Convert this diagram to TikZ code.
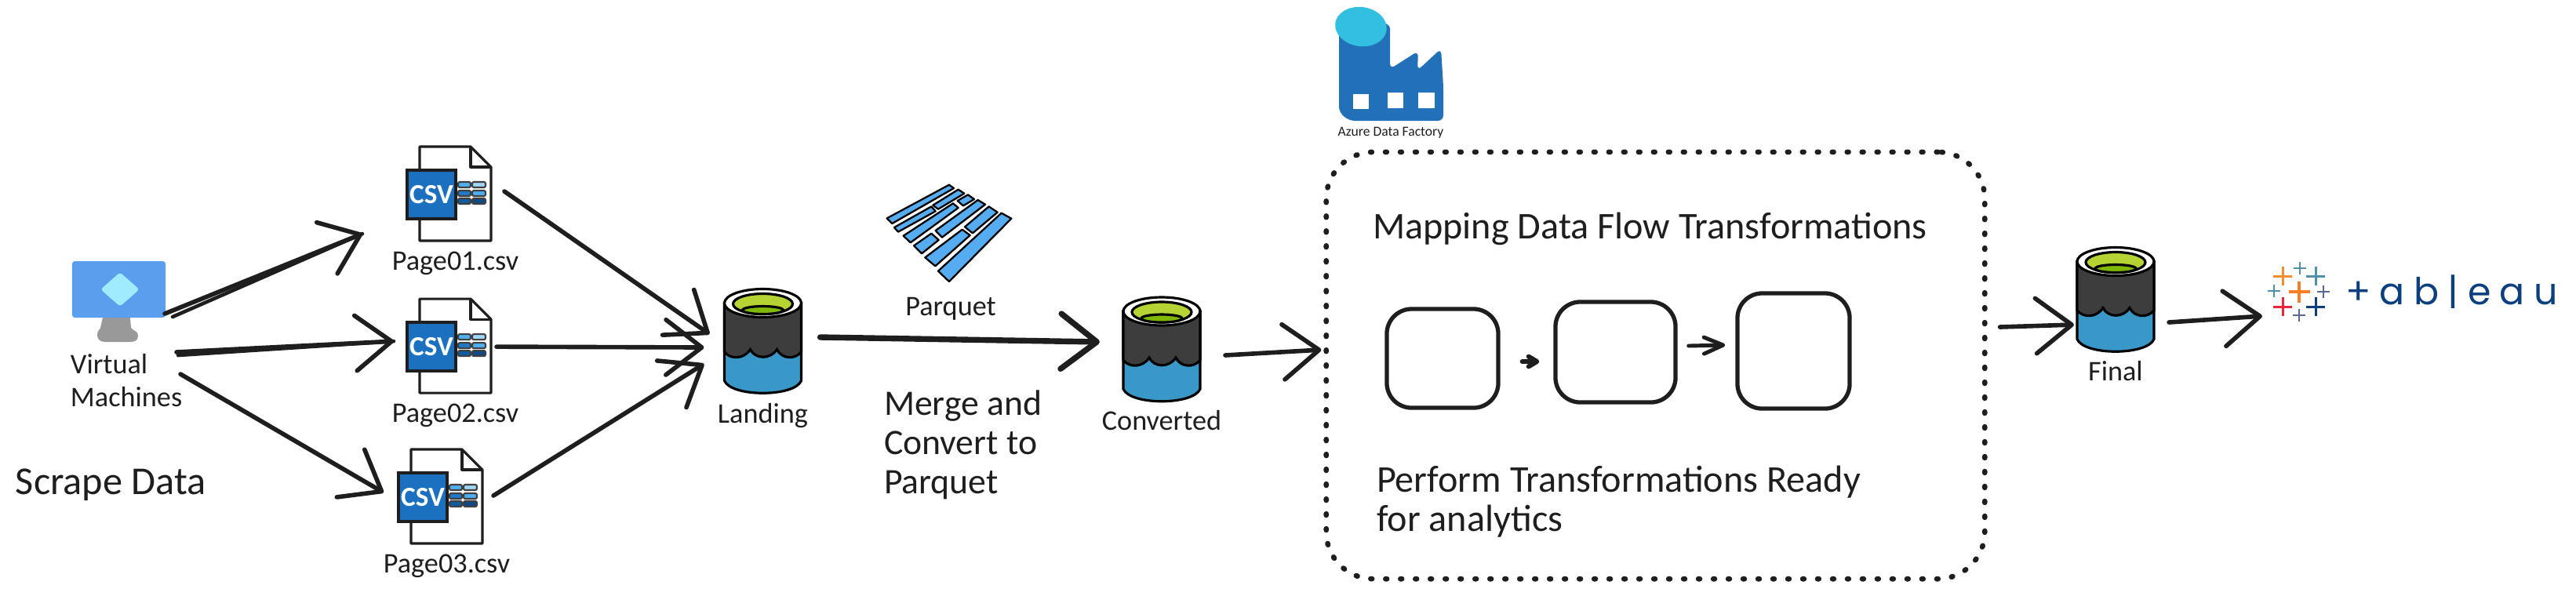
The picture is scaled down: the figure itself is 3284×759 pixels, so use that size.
\documentclass[tikz,border=0pt]{standalone}
\usepackage{fontspec}
\setmainfont{Carlito}
\newfontfamily\logofont[WordSpace=0.9]{Poppins}
\usetikzlibrary{arrows.meta, positioning, shapes.geometric}
\definecolor{ink}{RGB}{30, 30, 30}
\definecolor{screenblue}{RGB}{90, 158, 238}
\definecolor{gemcyan}{RGB}{160, 235, 255}
\definecolor{standgrey}{RGB}{153, 153, 153}
\definecolor{tagblue}{RGB}{27, 112, 192}
\definecolor{cellA}{RGB}{79, 174, 240}
\definecolor{cellB}{RGB}{160, 213, 248}
\definecolor{cellC}{RGB}{31, 120, 200}
\definecolor{cellD}{RGB}{15, 91, 160}
\definecolor{cellE}{RGB}{15, 74, 133}
\definecolor{binwall}{RGB}{61, 61, 61}
\definecolor{binwater}{RGB}{58, 152, 200}
\definecolor{binlime}{RGB}{181, 211, 51}
\definecolor{bingreen}{RGB}{127, 184, 0}
\definecolor{parquetblue}{RGB}{85, 172, 240}
\definecolor{factoryblue}{RGB}{34, 112, 184}
\definecolor{factorycyan}{RGB}{51, 191, 224}
\definecolor{tabnavy}{RGB}{11, 63, 126}
\definecolor{taborange}{RGB}{242, 142, 43}
\definecolor{tabflame}{RGB}{250, 127, 36}
\definecolor{tabteal}{RGB}{78, 145, 170}
\definecolor{tabpurple}{RGB}{92, 102, 146}
\definecolor{tabred}{RGB}{232, 39, 60}

\begin{document}
\begin{tikzpicture}[
  x=0.01cm, y=-0.01cm,
  spot/.style={rectangle, inner sep=0pt, outer sep=0pt},
  hand/.style={text=ink, inner sep=0pt, outer sep=0pt, align=left},
  smalltxt/.style={hand, font=\fontsize{10.3}{11.9}\selectfont},
  bigtxt/.style={hand, font=\fontsize{13.7}{14.2}\selectfont},
  mergefont/.style={hand, font=\fontsize{13}{14.2}\selectfont},
  arr/.style={-{Straight Barb[length=13pt, width=20pt, round]}, ink, line width=1.6pt, line cap=round},
  arrbold/.style={arr, line width=2.1pt},
  arrsmall/.style={-{Straight Barb[length=7pt, width=6pt, round]}, ink, line width=1.4pt, line cap=round},
  arrtiny/.style={-{Straight Barb[length=3pt, width=3.6pt, round]}, ink, line width=1.7pt, line cap=round},
  stroke/.style={ink, line width=1.3pt, line cap=round},
  stepbox/.style={rectangle, rounded corners=9pt, draw=ink, line width=1.5pt, fill=white, inner sep=0pt},
  cell/.style={draw=ink!85, line width=0.6pt, rounded corners=0.6pt},
  binline/.style={draw=black, line width=0.9pt},
  pqbar/.style={draw=black, fill=parquetblue, line width=0.65pt, line join=round},
  tabstroke/.style={line width=#1},
  csvdoc/.pic={
    \draw[ink, line width=0.9pt, fill=white, line join=round] (-37.5,-60) -- (27.5,-60) -- (53.5,-34) -- (53.5,60) -- (-37.5,60) -- cycle;
    \draw[ink, line width=0.9pt, line join=round] (27.5,-60) -- (27.5,-34) -- (53.5,-34);
    \node[rectangle, draw=ink, line width=1.1pt, fill=tagblue, text=white, minimum width=0.62cm, minimum height=0.62cm,
      inner sep=0pt, font=\fontsize{10}{10}\bfseries\selectfont] (-tag) at (-22.5,1) {CSV};
    \draw[cell, fill=cellA] (11.5,-15) rectangle (27.5,-8);
    \draw[cell, fill=cellB] (29.5,-15) rectangle (46.5,-8);
    \draw[cell, fill=cellC] (11.5,-4) rectangle (27.5,3);
    \draw[cell, fill=cellA] (29.5,-4) rectangle (46.5,3);
    \draw[cell, fill=cellD] (11.5,6) rectangle (27.5,13);
    \draw[cell, fill=cellE] (29.5,6) rectangle (46.5,13);
  },
  bucket/.pic={
    \path[binline, fill=binwater] (-49,-48) -- (-49,51) .. controls (-40,72) and (40,72) .. (49,51) -- (49,-48) -- cycle;
    \path[binline, fill=binwall] (-49,-48) -- (-49,14) .. controls (-42,24) and (-24,24) .. (-16,11)
      .. controls (-10,24) and (10,24) .. (18,11) .. controls (24,24) and (42,24) .. (49,14) -- (49,-48) -- cycle;
    \path[binline, fill=white] (0,-48) ellipse [x radius=49, y radius=18];
    \path[binline, fill=binlime] (0,-47) ellipse [x radius=38, y radius=13];
    \path[binline, fill=bingreen] (0,-39) ellipse [x radius=26, y radius=5];
  },
  parquetmark/.pic={
    \path[pqbar] (92,145) -- (330,17) -- (348,30) -- (112,165) -- cycle;
    \path[pqbar] (120,180) -- (262,100) -- (278,118) -- (135,197) -- cycle;
    \path[pqbar] (268,95) -- (365,35) -- (388,50) -- (288,110) -- cycle;
    \path[pqbar] (362,78) -- (402,55) -- (426,72) -- (384,97) -- cycle;
    \path[pqbar] (155,212) -- (345,88) -- (365,105) -- (182,238) -- cycle;
    \path[pqbar] (278,192) -- (440,75) -- (468,92) -- (303,218) -- cycle;
    \path[pqbar] (195,250) -- (262,203) -- (290,228) -- (225,280) -- cycle;
    \path[pqbar] (238,295) -- (380,188) -- (410,210) -- (277,328) -- cycle;
    \path[pqbar] (390,178) -- (482,100) -- (515,122) -- (420,202) -- cycle;
    \path[pqbar] (288,347) -- (530,125) -- (568,146) -- (330,387) -- cycle;
  },
  tabplus/.pic={
    \path[pic actions] (-10,0) -- (10,0) (0,-10) -- (0,10);
  }
]
\useasboundingbox (0,0) rectangle (3284,759);

\fill[standgrey] (131,405) -- (166,405) -- (167,418) .. controls (170,422) and (176,422) .. (176,428)
  .. controls (176,434) and (172,436) .. (166,436) -- (134,436) .. controls (127,436) and (124,432) .. (124,427)
  .. controls (124,421) and (128,420) .. (128,418) -- cycle;
\node[spot, fill=screenblue, rounded corners=1pt, minimum width=1.19cm, minimum height=0.72cm] (vm) at (151.5,369) {};
\node[diamond, fill=gemcyan, rounded corners=1pt, inner sep=0pt, minimum width=0.5cm, minimum height=0.44cm] (vmgem) at (153,369) {};
\node[smalltxt, anchor=base west] (vmtxt) at (90,518) {Virtual\\Machines};
\node[hand, font=\fontsize{14.3}{16}\selectfont, anchor=base west] (scrape) at (20,630) {Scrape Data};

\node[spot, minimum width=1.07cm, minimum height=1.2cm] (page1) at (572.5,247) {};
\node[spot, minimum width=1.07cm, minimum height=1.2cm, below=0.74cm of page1] (page2) {};
\node[spot, minimum width=1.07cm, minimum height=1.2cm] (page3) at (561.5,633) {};
\pic (csvA) at (page1) {csvdoc};
\pic (csvB) at (page2) {csvdoc};
\pic (csvC) at (page3) {csvdoc};
\node[smalltxt, below=0.14cm of page1, xshift=0.08cm] (name1) {Page01.csv};
\node[smalltxt, below=0.14cm of page2, xshift=0.08cm] (name2) {Page02.csv};
\node[smalltxt, below=0.14cm of page3, xshift=0.08cm] (name3) {Page03.csv};

\node[spot, minimum width=1cm, minimum height=1.33cm] (landing) at (972.5,434.5) {};
\node[spot, minimum width=1cm, minimum height=1.3cm] (converted) at (1481,445) {};
\node[spot, minimum width=1cm, minimum height=1.31cm] (final) at (2697,381.5) {};
\pic (binA) at (landing) {bucket};
\pic (binB) at (converted) {bucket};
\pic (binC) at (final) {bucket};
\node[smalltxt, below=0.13cm of landing] (landingtxt) {Landing};
\node[smalltxt, below=0.13cm of converted] (convertedtxt) {Converted};
\node[smalltxt, below=0.13cm of final] (finaltxt) {Final};

\pic[scale=0.3333] (pq) at (1100,230) {parquetmark};
\node[spot, minimum width=1.6cm, minimum height=1.25cm] (pqspot) at (1212,297) {};
\node[smalltxt, below=0.2cm of pqspot] (pqtxt) {Parquet};
\node[mergefont, anchor=base west] (mergetxt) at (1127,629) {Merge and\\Convert to\\Parquet};

\fill[factoryblue, rounded corners=2pt] (1707,30) -- (1772,30) -- (1772,88) -- (1808,65) -- (1807,90) -- (1837,62) -- (1840,110)
  -- (1840,154) -- (1720,154) -- (1707,143) -- cycle;
\fill[factorycyan, rotate around={-8:(1735,34)}] (1735,34) ellipse [x radius=33, y radius=25];
\fill[white] (1725,120) rectangle (1745,139);
\fill[white] (1769,118) rectangle (1789,138);
\fill[white] (1808,118) rectangle (1829,138);
\node[hand, font=\fontsize{5}{6}\selectfont] (adftxt) at (1773,169) {Azure Data Factory};

\node[rectangle, rounded corners=17pt, draw=ink, line width=1.9pt, line cap=round, dash pattern=on 0.5pt off 4.9pt,
  minimum width=8.39cm, minimum height=5.44cm] (flowbox) at (2110.5,466) {};
\node[bigtxt, anchor=base west] (flowhead) at (1750,304) {Mapping Data Flow Transformations};
\node[stepbox, minimum width=1.42cm, minimum height=1.26cm] (boxA) at (1839,457) {};
\node[stepbox, minimum width=1.53cm, minimum height=1.28cm] (boxB) at (2059.5,449) {};
\node[stepbox, minimum width=1.43cm, minimum height=1.47cm] (boxC) at (2286.5,447.5) {};
\node[bigtxt, anchor=base west] (flownote) at (1755,677) {Perform Transformations Ready\\for analytics};

\node[spot, minimum width=0.82cm, minimum height=0.8cm] (tablogo) at (2931,372) {};
\pic[tabstroke=1pt, draw=tabflame, scale=1.35] (plusA) at (tablogo) {tabplus};
\pic[tabstroke=0.85pt, draw=taborange, scale=1.2] (plusB) at (2910,352) {tabplus};
\pic[tabstroke=0.6pt, draw=tabteal, scale=0.8] (plusC) at (2932,342) {tabplus};
\pic[tabstroke=0.85pt, draw=tabteal, scale=1.2] (plusD) at (2952,352) {tabplus};
\pic[tabstroke=0.6pt, draw=tabteal, scale=0.8] (plusE) at (2899,371) {tabplus};
\pic[tabstroke=0.6pt, draw=tabpurple, scale=0.8] (plusF) at (2962,372) {tabplus};
\pic[tabstroke=0.85pt, draw=tabred, scale=1.2] (plusG) at (2910,391) {tabplus};
\pic[tabstroke=0.85pt, draw=tabnavy, scale=1.2] (plusH) at (2952,391) {tabplus};
\pic[tabstroke=0.6pt, draw=tabpurple, scale=0.8] (plusI) at (2931,402) {tabplus};
\node[hand, text=tabnavy, right=0.18cm of tablogo, font=\logofont\fontsize{13.5}{15}\selectfont] (tabword) {+ a b | e a u};

\draw[arr] ([shift={(-1,-5)}]vm.south east) -- ([shift={(-57,-9)}]page1.south west);
\draw[stroke] ([shift={(9,-1)}]vm.south east) -- ([shift={(-57,-9)}]page1.south west);
\draw[arr] ([shift={(14,44)}]vm.south east) -- ([shift={(-17,-6)}]page2.west);
\draw[stroke] ([shift={(16,48)}]vm.south east) -- ([shift={(-17,-6)}]page2.west);
\draw[arr] ([shift={(19,72)}]vm.south east) -- ([shift={(-19,-5)}]page3.west);

\draw[arr] ([shift={(17,-3)}]page1.east) -- ([shift={(-18,-8.5)}]landing.west);
\draw[arr] ([shift={(7,1)}]page2.east) -- ([shift={(-25,8.5)}]landing.west);
\draw[arr] ([shift={(14,-1)}]page3.east) -- ([shift={(-25,29.5)}]landing.west);

\draw[arrbold] ([shift={(23,-4.5)}]landing.east) -- ([shift={(-29,-9)}]converted.west);
\draw[arr] ([shift={(31,8)}]converted.east) -- ([shift={(-3,-20)}]flowbox.west);
\draw[arrtiny] ([shift={(28,4)}]boxA.east) -- ([shift={(-18,12)}]boxB.west);
\draw[arrsmall] ([shift={(14,-8)}]boxB.east) -- ([shift={(-13,-7.5)}]boxC.west);
\draw[arr] ([shift={(16,-49)}]flowbox.east) -- ([shift={(-3,32.5)}]final.west);
\draw[arr] ([shift={(18,29.5)}]final.east) -- ([shift={(-6,31)}]tablogo.west);

\end{tikzpicture}
\end{document}
